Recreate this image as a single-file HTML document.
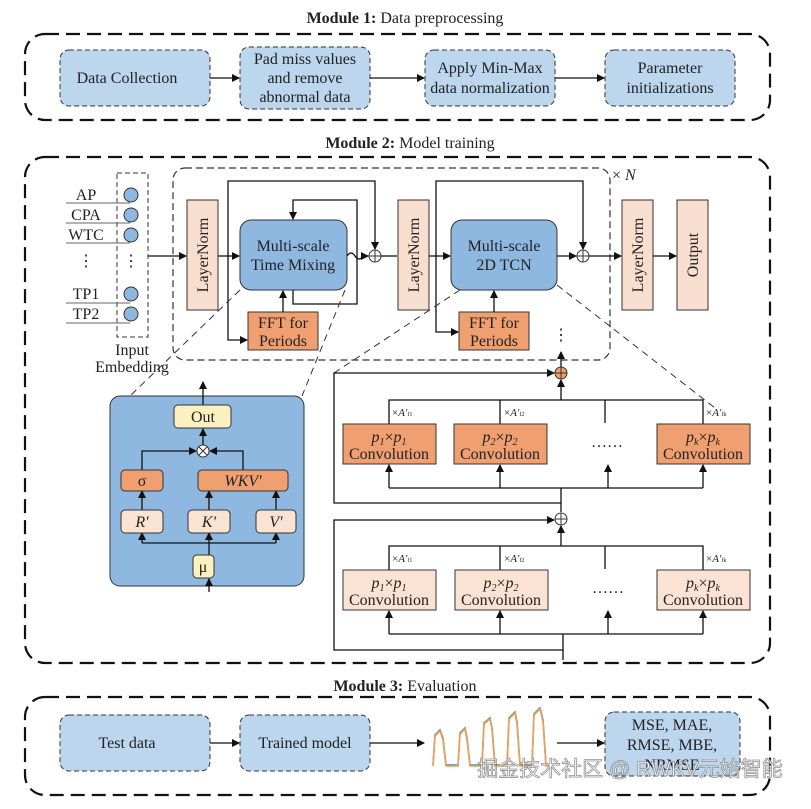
<!DOCTYPE html>
<html><head><meta charset="utf-8"><style>
body{margin:0;background:#fff}
svg text{font-family:"Liberation Serif",serif;fill:#222}
</style></head><body>
<svg width="811" height="804" viewBox="0 0 811 804" xmlns="http://www.w3.org/2000/svg">
<defs>
<marker id="a" markerWidth="8" markerHeight="8" refX="7" refY="4" orient="auto" markerUnits="userSpaceOnUse"><path d="M0,0 L8,4 L0,8z" fill="#111"/></marker>
</defs>
<g font-size="16">
<text x="405" y="23" text-anchor="middle"><tspan font-weight="bold">Module 1:</tspan> Data preprocessing</text>
<rect x="25" y="34" width="745" height="86" rx="20" fill="none" stroke="#111" stroke-width="2.2" stroke-dasharray="14,7"/>
<g fill="#bcd6ee" stroke="#333" stroke-dasharray="5,3">
<rect x="60" y="50" width="150" height="56" rx="9"/>
<rect x="240" y="47" width="130" height="62" rx="9"/>
<rect x="425" y="50" width="130" height="56" rx="9"/>
<rect x="605" y="50" width="130" height="56" rx="9"/>
</g>
<text x="127" y="83" text-anchor="middle">Data Collection</text>
<text x="305" y="64" text-anchor="middle">Pad miss values</text>
<text x="305" y="83" text-anchor="middle">and remove</text>
<text x="305" y="102" text-anchor="middle">abnormal data</text>
<text x="490" y="73" text-anchor="middle">Apply Min-Max</text>
<text x="490" y="93" text-anchor="middle">data normalization</text>
<text x="670" y="73" text-anchor="middle">Parameter</text>
<text x="670" y="93" text-anchor="middle">initializations</text>
<g stroke="#111" stroke-width="1.3" marker-end="url(#a)">
<line x1="210" y1="78" x2="239" y2="78"/><line x1="370" y1="78" x2="424" y2="78"/><line x1="555" y1="78" x2="604" y2="78"/>
</g>

<text x="410" y="148" text-anchor="middle"><tspan font-weight="bold">Module 2:</tspan> Model training</text>
<rect x="25" y="157" width="745" height="506" rx="20" fill="none" stroke="#111" stroke-width="2.2" stroke-dasharray="14,7"/>
<rect x="173" y="168" width="437" height="192" rx="12" fill="none" stroke="#333" stroke-width="1.2" stroke-dasharray="7,4"/>
<text x="612" y="180">× <tspan font-style="italic">N</tspan></text>
<rect x="117" y="173" width="31" height="164" fill="none" stroke="#333" stroke-dasharray="5,3"/>
<g stroke="#666" stroke-width="1">
<line x1="66" y1="203" x2="130" y2="203"/><line x1="66" y1="223" x2="130" y2="223"/><line x1="66" y1="243" x2="130" y2="243"/>
<line x1="66" y1="303" x2="130" y2="303"/><line x1="66" y1="323" x2="130" y2="323"/>
</g>
<g fill="#8fb8e0" stroke="#333">
<circle cx="131" cy="195" r="7"/><circle cx="131" cy="215" r="7"/><circle cx="131" cy="235" r="7"/><circle cx="131" cy="294" r="7"/><circle cx="131" cy="314" r="7"/>
</g>
<text x="86" y="200" text-anchor="middle">AP</text>
<text x="86" y="220" text-anchor="middle">CPA</text>
<text x="86" y="240" text-anchor="middle">WTC</text>
<text x="86" y="266" text-anchor="middle">⋮</text>
<text x="131" y="266" text-anchor="middle">⋮</text>
<text x="86" y="299" text-anchor="middle">TP1</text>
<text x="86" y="319" text-anchor="middle">TP2</text>
<text x="132" y="355" text-anchor="middle">Input</text>
<text x="132" y="372" text-anchor="middle">Embedding</text>
<g fill="#f8dece" stroke="#333">
<rect x="187" y="200" width="31" height="110"/><rect x="398" y="200" width="31" height="110"/>
<rect x="622" y="200" width="31" height="110"/><rect x="677" y="200" width="31" height="110"/>
</g>
<text transform="translate(208,255) rotate(-90)" text-anchor="middle">LayerNorm</text>
<text transform="translate(419,255) rotate(-90)" text-anchor="middle">LayerNorm</text>
<text transform="translate(643,255) rotate(-90)" text-anchor="middle">LayerNorm</text>
<text transform="translate(698,255) rotate(-90)" text-anchor="middle">Output</text>
<g fill="#8fb8e0" stroke="#333">
<rect x="240" y="220" width="107" height="70" rx="11"/><rect x="451" y="220" width="106" height="70" rx="11"/>
</g>
<text x="293" y="251" text-anchor="middle">Multi-scale</text>
<text x="293" y="270" text-anchor="middle">Time Mixing</text>
<text x="504" y="251" text-anchor="middle">Multi-scale</text>
<text x="504" y="270" text-anchor="middle">2D TCN</text>
<g fill="#f0a070" stroke="#333">
<rect x="248" y="312" width="70" height="38"/><rect x="459" y="312" width="70" height="38"/>
</g>
<text x="283" y="328" text-anchor="middle">FFT for</text>
<text x="283" y="346" text-anchor="middle">Periods</text>
<text x="494" y="328" text-anchor="middle">FFT for</text>
<text x="494" y="346" text-anchor="middle">Periods</text>
<g fill="#fff" stroke="#333"><circle cx="375" cy="256" r="6"/><circle cx="583" cy="256" r="6"/></g>
<g stroke="#333" stroke-width="1"><path d="M369,256h12M375,250v12M577,256h12M583,250v12"/></g>
<g stroke="#111" stroke-width="1.3" fill="none">
<line x1="148" y1="256" x2="186" y2="256" marker-end="url(#a)"/>
<line x1="218" y1="256" x2="239" y2="256" marker-end="url(#a)"/>
<path d="M347,256 q4,-6 8,0 q4,6 8,0 h5" marker-end="url(#a)"/>
<line x1="381" y1="256" x2="397" y2="256"/>
<path d="M228,256 V181 H375 V249" marker-end="url(#a)"/>
<path d="M228,256 V340 H247" marker-end="url(#a)"/>
<line x1="283" y1="312" x2="283" y2="291" marker-end="url(#a)"/>
<path d="M293,290 V304 H357 V200 H293 V219" marker-end="url(#a)"/>
<line x1="429" y1="256" x2="450" y2="256" marker-end="url(#a)"/>
<line x1="557" y1="256" x2="576" y2="256" marker-end="url(#a)"/>
<line x1="589" y1="256" x2="621" y2="256" marker-end="url(#a)"/>
<path d="M436,256 V181 H583 V249" marker-end="url(#a)"/>
<path d="M436,256 V332 H458" marker-end="url(#a)"/>
<line x1="494" y1="312" x2="494" y2="291" marker-end="url(#a)"/>
<line x1="653" y1="256" x2="676" y2="256" marker-end="url(#a)"/>
</g>
<g stroke="#333" stroke-dasharray="7,5" fill="none">
<line x1="240" y1="290" x2="130" y2="396"/><line x1="345" y1="290" x2="302" y2="396"/>
<line x1="460" y1="290" x2="334" y2="373"/><line x1="557" y1="285" x2="715" y2="408"/>
</g>
<text x="561" y="340" text-anchor="middle">⋮</text>
<g stroke="#111" stroke-width="1.3" fill="none">
<line x1="561" y1="367" x2="561" y2="352" marker-end="url(#a)"/>
<path d="M561,503 H334 V373 H554" marker-end="url(#a)"/>
<path d="M389,424 V400 H703 V424 M500,400 V424 M605,400 V423"/>
<line x1="561" y1="400" x2="561" y2="380" marker-end="url(#a)"/>
<path d="M389,488 H703"/>
<line x1="389" y1="488" x2="389" y2="465" marker-end="url(#a)"/>
<line x1="500" y1="488" x2="500" y2="465" marker-end="url(#a)"/>
<line x1="608" y1="488" x2="608" y2="465" marker-end="url(#a)"/>
<line x1="703" y1="488" x2="703" y2="465" marker-end="url(#a)"/>
<line x1="561" y1="488" x2="561" y2="512"/>
<path d="M563,650 H334 V520 H554" marker-end="url(#a)"/>
<line x1="561" y1="546" x2="561" y2="526" marker-end="url(#a)"/>
<path d="M389,570 V546 H703 V570 M500,546 V570 M605,546 V569"/>
<path d="M389,634 H703"/>
<line x1="389" y1="634" x2="389" y2="611" marker-end="url(#a)"/>
<line x1="500" y1="634" x2="500" y2="611" marker-end="url(#a)"/>
<line x1="608" y1="634" x2="608" y2="611" marker-end="url(#a)"/>
<line x1="703" y1="634" x2="703" y2="611" marker-end="url(#a)"/>
<line x1="563" y1="634" x2="563" y2="660"/>
</g>
<circle cx="561" cy="373" r="6" fill="#f0a070" stroke="#333"/>
<circle cx="561" cy="519" r="6" fill="#fff" stroke="#333"/>
<path d="M555,373h12M561,367v12M555,519h12M561,513v12" stroke="#333"/>
<g fill="#f0a070" stroke="#333">
<rect x="343" y="424" width="93" height="40"/><rect x="454" y="424" width="93" height="40"/><rect x="657" y="424" width="93" height="40"/>
</g>
<g fill="#fbe3d3" stroke="#333">
<rect x="343" y="570" width="93" height="40"/><rect x="455" y="570" width="93" height="40"/><rect x="657" y="570" width="93" height="40"/>
</g>
<g font-size="16">
<text x="389" y="442" text-anchor="middle" font-style="italic">p<tspan font-size="10" dy="3">1</tspan><tspan dy="-3" font-style="normal">×</tspan>p<tspan font-size="10" dy="3">1</tspan></text>
<text x="500" y="442" text-anchor="middle" font-style="italic">p<tspan font-size="10" dy="3">2</tspan><tspan dy="-3" font-style="normal">×</tspan>p<tspan font-size="10" dy="3">2</tspan></text>
<text x="703" y="442" text-anchor="middle" font-style="italic">p<tspan font-size="10" dy="3">k</tspan><tspan dy="-3" font-style="normal">×</tspan>p<tspan font-size="10" dy="3">k</tspan></text>
<text x="389" y="459" text-anchor="middle">Convolution</text><text x="500" y="459" text-anchor="middle">Convolution</text><text x="703" y="459" text-anchor="middle">Convolution</text>
<text x="389" y="588" text-anchor="middle" font-style="italic">p<tspan font-size="10" dy="3">1</tspan><tspan dy="-3" font-style="normal">×</tspan>p<tspan font-size="10" dy="3">1</tspan></text>
<text x="501" y="588" text-anchor="middle" font-style="italic">p<tspan font-size="10" dy="3">2</tspan><tspan dy="-3" font-style="normal">×</tspan>p<tspan font-size="10" dy="3">2</tspan></text>
<text x="703" y="588" text-anchor="middle" font-style="italic">p<tspan font-size="10" dy="3">k</tspan><tspan dy="-3" font-style="normal">×</tspan>p<tspan font-size="10" dy="3">k</tspan></text>
<text x="389" y="605" text-anchor="middle">Convolution</text><text x="501" y="605" text-anchor="middle">Convolution</text><text x="703" y="605" text-anchor="middle">Convolution</text>
<text x="607" y="447" text-anchor="middle">……</text><text x="608" y="593" text-anchor="middle">……</text>
</g>
<g font-size="11">
<text x="392" y="416">×<tspan font-style="italic">A′</tspan><tspan font-size="6">f1</tspan></text>
<text x="504" y="416">×<tspan font-style="italic">A′</tspan><tspan font-size="6">f2</tspan></text>
<text x="706" y="416">×<tspan font-style="italic">A′</tspan><tspan font-size="6">fk</tspan></text>
<text x="392" y="562">×<tspan font-style="italic">A′</tspan><tspan font-size="6">f1</tspan></text>
<text x="504" y="562">×<tspan font-style="italic">A′</tspan><tspan font-size="6">f2</tspan></text>
<text x="706" y="562">×<tspan font-style="italic">A′</tspan><tspan font-size="6">fk</tspan></text>
</g>
<rect x="110" y="396" width="194" height="190" rx="10" fill="#8fb8e0" stroke="#333"/>
<g stroke="#111" stroke-width="1.3" fill="none">
<line x1="203" y1="405" x2="203" y2="382" marker-end="url(#a)"/>
<line x1="203" y1="445" x2="203" y2="429" marker-end="url(#a)"/>
<path d="M142,470 V451 H196" marker-end="url(#a)"/>
<path d="M243,470 V451 H210" marker-end="url(#a)"/>
<line x1="142" y1="510" x2="142" y2="491" marker-end="url(#a)"/>
<line x1="209" y1="510" x2="209" y2="491" marker-end="url(#a)"/>
<line x1="276" y1="510" x2="276" y2="491" marker-end="url(#a)"/>
<path d="M142,543 H276"/>
<line x1="142" y1="543" x2="142" y2="533" marker-end="url(#a)"/>
<line x1="276" y1="543" x2="276" y2="533" marker-end="url(#a)"/>
<line x1="209" y1="555" x2="209" y2="533" marker-end="url(#a)"/>
<line x1="209" y1="592" x2="209" y2="579" marker-end="url(#a)"/>
</g>
<g stroke="#333">
<rect x="174" y="405" width="57" height="23" rx="4" fill="#fdf0c0"/>
<rect x="121" y="470" width="42" height="21" rx="4" fill="#f0a070"/>
<rect x="198" y="470" width="90" height="21" rx="4" fill="#f0a070"/>
<rect x="121" y="510" width="42" height="23" rx="4" fill="#fbe3d3"/>
<rect x="188" y="510" width="42" height="23" rx="4" fill="#fbe3d3"/>
<rect x="256" y="510" width="40" height="23" rx="4" fill="#fbe3d3"/>
<rect x="193" y="555" width="21" height="23" rx="4" fill="#fdf0c0"/>
<circle cx="203" cy="451" r="6" fill="#fff"/>
<path d="M199,447l8,8M207,447l-8,8"/>
</g>
<text x="203" y="422" text-anchor="middle">Out</text>
<text x="142" y="486" text-anchor="middle">σ</text>
<text x="243" y="486" text-anchor="middle" font-style="italic">WKV′</text>
<text x="142" y="527" text-anchor="middle" font-style="italic">R′</text>
<text x="209" y="527" text-anchor="middle" font-style="italic">K′</text>
<text x="276" y="527" text-anchor="middle" font-style="italic">V′</text>
<text x="203" y="572" text-anchor="middle">μ</text>

<text x="405" y="691" text-anchor="middle"><tspan font-weight="bold">Module 3:</tspan> Evaluation</text>
<rect x="25" y="697" width="745" height="98" rx="20" fill="none" stroke="#111" stroke-width="2.2" stroke-dasharray="14,7"/>
<g fill="#bcd6ee" stroke="#333" stroke-dasharray="5,3">
<rect x="60" y="715" width="150" height="56" rx="9"/>
<rect x="240" y="715" width="130" height="56" rx="9"/>
<rect x="605" y="712" width="135" height="64" rx="9"/>
</g>
<text x="127" y="748" text-anchor="middle">Test data</text>
<text x="305" y="748" text-anchor="middle">Trained model</text>
<text x="672" y="730" text-anchor="middle">MSE, MAE,</text>
<text x="672" y="750" text-anchor="middle">RMSE, MBE,</text>
<text x="672" y="770" text-anchor="middle">NRMSE</text>
<g stroke="#111" stroke-width="1.3" marker-end="url(#a)">
<line x1="210" y1="743" x2="239" y2="743"/><line x1="370" y1="743" x2="424" y2="743"/><line x1="557" y1="743" x2="604" y2="743"/>
</g>
<path d="M433,765 L435,735 L440,730 L443,738 L446,765 L458,765 L460,733 L465,728 L467,738 L470,765 L482,765 L484,723 L490,718 L492,728 L495,765 L507,765 L509,718 L515,712 L517,722 L520,765 L532,765 L534,714 L540,708 L543,720 L546,765 L550,765" fill="none" stroke="#4a86b8" stroke-width="1.6"/>
<path d="M433,766 L435,736 L440,731 L443,740 L446,766 L458,766 L460,734 L465,729 L467,740 L470,766 L482,766 L484,724 L490,719 L492,730 L495,766 L507,766 L509,719 L515,713 L517,724 L520,766 L532,766 L534,715 L540,709 L543,722 L546,766 L550,766" fill="none" stroke="#f0a050" stroke-width="1.6"/>
<text x="630" y="776" text-anchor="middle" font-size="21" style="font-family:'Liberation Sans','Noto Sans CJK SC',sans-serif;fill:#fff;stroke:#888;stroke-width:0.8;opacity:0.9">掘金技术社区 @ RWKV元始智能</text>
</g>
</svg>
</body></html>
